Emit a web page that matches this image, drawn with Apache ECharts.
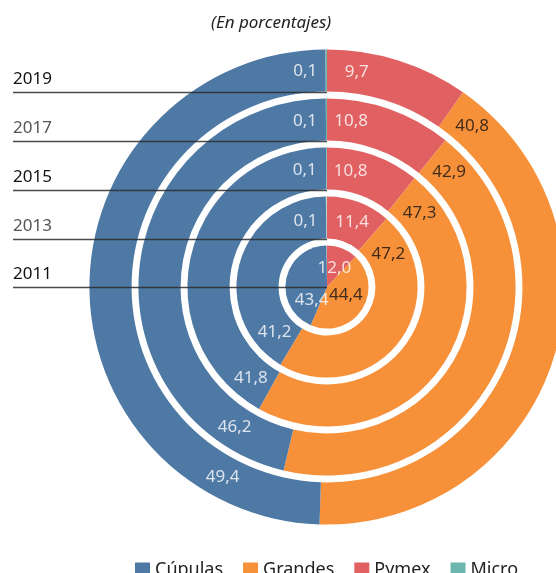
<!DOCTYPE html>
<html>
<head>
<meta charset="utf-8">
<script src="https://cdn.jsdelivr.net/npm/echarts@6/dist/echarts.min.js"></script>
<style>
html, body { margin: 0; padding: 0; background: #fff; }
#chart { width: 556px; height: 573px; }
</style>
</head>
<body>
<div id="chart"></div>
<script>
var years = ['2011', '2013', '2015', '2017', '2019'];
var pymex = [12.0, 11.4, 10.8, 10.8, 9.7];
var grandes = [44.4, 47.2, 47.3, 42.9, 40.8];
var cupulas = [43.4, 41.2, 41.8, 46.2, 49.4];
var micro = [null, 0.1, 0.1, 0.1, 0.1];
var legendNames = ['Cúpulas', 'Grandes', 'Pymex', 'Micro'];

// where each label sits along its ring (in % of the circle, from the slice start)
var pymexShift = [5.8, 5.9, 3.2, 2.3, 2.2];
var grandesShift = [19.4, 5.8, 3.5, 2.2, 2.0];
var cupulasShift = [7.0, 5.0, 3.0, 5.6, 7.5];
var microShift = [0, -4.9, -3.0, -2.1, -1.6];   // counted back from the slice end

var colors = { 'Cúpulas': '#4e79a5', 'Grandes': '#f6913a', 'Pymex': '#e16163', 'Micro': '#6db6ad' };
var FONT = '"Noto Sans", sans-serif';
var CX = 327, CY = 287;
var R_IN = -4, R_OUT = 241, GAP = 0.14;   // polar radius extent and ring gap

var chart = echarts.init(document.getElementById('chart'));

function fmt(v) {
    return v.toFixed(1).replace('.', ',');
}

function labelPoints(values, starts, shift) {
    var out = [];
    values.forEach(function (v, i) {
        if (v == null) return;
        out.push([i, starts[i] + shift[i], v]);
    });
    return out;
}

var pymexStart = pymex.map(function () { return 0; });
var grandesStart = pymex.slice();
var cupulasStart = pymex.map(function (v, i) { return v + grandes[i]; });
var microEnd = pymex.map(function (v, i) { return v + grandes[i] + cupulas[i] + (micro[i] || 0); });

function ring(name, data) {
    return {
        name: name,
        type: 'bar',
        coordinateSystem: 'polar',
        stack: 'total',
        barCategoryGap: (GAP * 100) + '%',
        data: data,
        silent: true,
        itemStyle: { color: colors[name] },
        label: { show: false }
    };
}

function labels(name, points, color) {
    return {
        name: 'lbl-' + name,
        type: 'scatter',
        coordinateSystem: 'polar',
        encode: { radius: 0, angle: 1 },
        symbolSize: 2,
        itemStyle: { color: 'rgba(0,0,0,0)' },
        silent: true,
        z: 5,
        data: points,
        label: {
            show: true,
            position: 'inside',
            color: color,
            fontSize: 17,
            fontFamily: FONT,
            formatter: function (p) { return fmt(p.value[2]); }
        }
    };
}

// year marks: line at the inner edge of every ring
var band = (R_OUT - R_IN) / years.length;
var graphics = [];
var yearColors = ['#111', '#555', '#111', '#555', '#111'];
years.forEach(function (y, i) {
    var inner = Math.max(0, R_IN + band * i + band * GAP / 2);
    var ly = Math.round(CY - inner) + 0.5;
    graphics.push({
        type: 'line', z: 100,
        shape: { x1: 13, y1: ly, x2: CX, y2: ly },
        style: { stroke: '#2b2b2b', lineWidth: 1.5, opacity: 0.85 }
    });
    graphics.push({
        type: 'text', z: 100, left: 13, top: ly - 22,
        style: { text: y, fill: yearColors[i], font: '17px ' + FONT }
    });
});

var option = {
    animation: false,
    title: {
        text: '(En porcentajes)',
        left: 206,
        top: 10,
        textStyle: { fontSize: 17, fontStyle: 'italic', fontWeight: 'normal', color: '#222', fontFamily: FONT }
    },
    legend: {
        data: legendNames,
        left: 130,
        top: 556,
        icon: 'rect',
        itemWidth: 15,
        itemHeight: 15,
        itemGap: 20,
        textStyle: { fontSize: 18, color: '#222', fontFamily: FONT }
    },
    polar: { center: [CX, CY], radius: [R_IN, R_OUT] },
    angleAxis: { type: 'value', min: 0, max: 100, startAngle: 90, clockwise: true, show: false },
    radiusAxis: { type: 'category', data: years, show: false },
    graphic: graphics,
    series: [
        ring('Pymex', pymex),
        ring('Grandes', grandes),
        ring('Cúpulas', cupulas),
        ring('Micro', micro),
        labels('Pymex', labelPoints(pymex, pymexStart, pymexShift), '#fff'),
        labels('Grandes', labelPoints(grandes, grandesStart, grandesShift), '#111'),
        labels('Cúpulas', labelPoints(cupulas, cupulasStart, cupulasShift), '#fff'),
        labels('Micro', labelPoints(micro, microEnd, microShift), '#fff')
    ]
};

chart.setOption(option);
</script>
</body>
</html>
